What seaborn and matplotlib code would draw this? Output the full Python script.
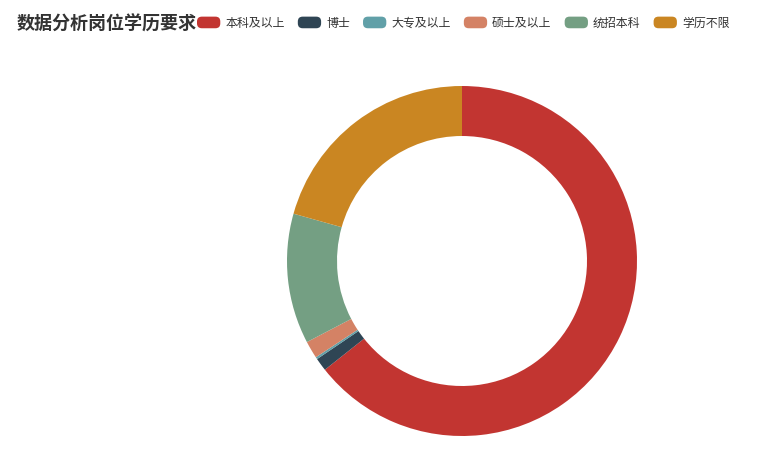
import matplotlib
matplotlib.use("Agg")
import matplotlib.pyplot as plt
import seaborn as sns
from matplotlib.patches import FancyBboxPatch
from matplotlib.legend_handler import HandlerPatch

categories = ["本科及以上", "博士", "大专及以上", "硕士及以上", "统招本科", "学历不限"]
counts = [321, 6, 1, 8, 60, 103]
colors = ["#c23531", "#2f4554", "#61a0a8", "#d48265", "#749f83", "#ca8622"]
title = "数据分析岗位学历要求"

sns.set_theme(style="white")
plt.rcParams['font.family'] = ['Noto Sans CJK SC', 'DejaVu Sans']

W, H = 764, 468
fig = plt.figure(figsize=(W / 100, H / 100), dpi=100)
ax = fig.add_axes([0, 0, 1, 1])

palette = sns.color_palette(colors)
wedges, _ = ax.pie(counts, colors=palette, startangle=90, counterclock=False,
                   center=(462, H - 261), radius=175,
                   wedgeprops=dict(width=50, linewidth=0, antialiased=True),
                   frame=True)
ax.set_xlim(0, W)
ax.set_ylim(0, H)
ax.set_aspect('equal')
ax.axis('off')

fig.text(17 / W, 1 - 24 / H, title, fontsize=13, fontweight='bold',
         color='#333333', ha='left', va='center')


class RoundHandler(HandlerPatch):
    def create_artists(self, legend, orig_handle, xdescent, ydescent, width,
                       height, fontsize, trans):
        p = FancyBboxPatch((-xdescent, -ydescent), width, height,
                           boxstyle="round,pad=0,rounding_size=3.5",
                           facecolor=orig_handle.get_facecolor(),
                           edgecolor='none', transform=trans)
        return [p]


leg = fig.legend(wedges, categories, loc='center left',
                 bbox_to_anchor=(197 / W, 1 - 23 / H), ncol=6, frameon=False,
                 fontsize=8.6, handlelength=1.95, handleheight=1.12,
                 handletextpad=0.42, columnspacing=1.1, borderpad=0,
                 borderaxespad=0,
                 handler_map={type(wedges[0]): RoundHandler()})
for t in leg.get_texts():
    t.set_color('#333333')

fig.savefig("out.png", dpi=100, facecolor='white')
